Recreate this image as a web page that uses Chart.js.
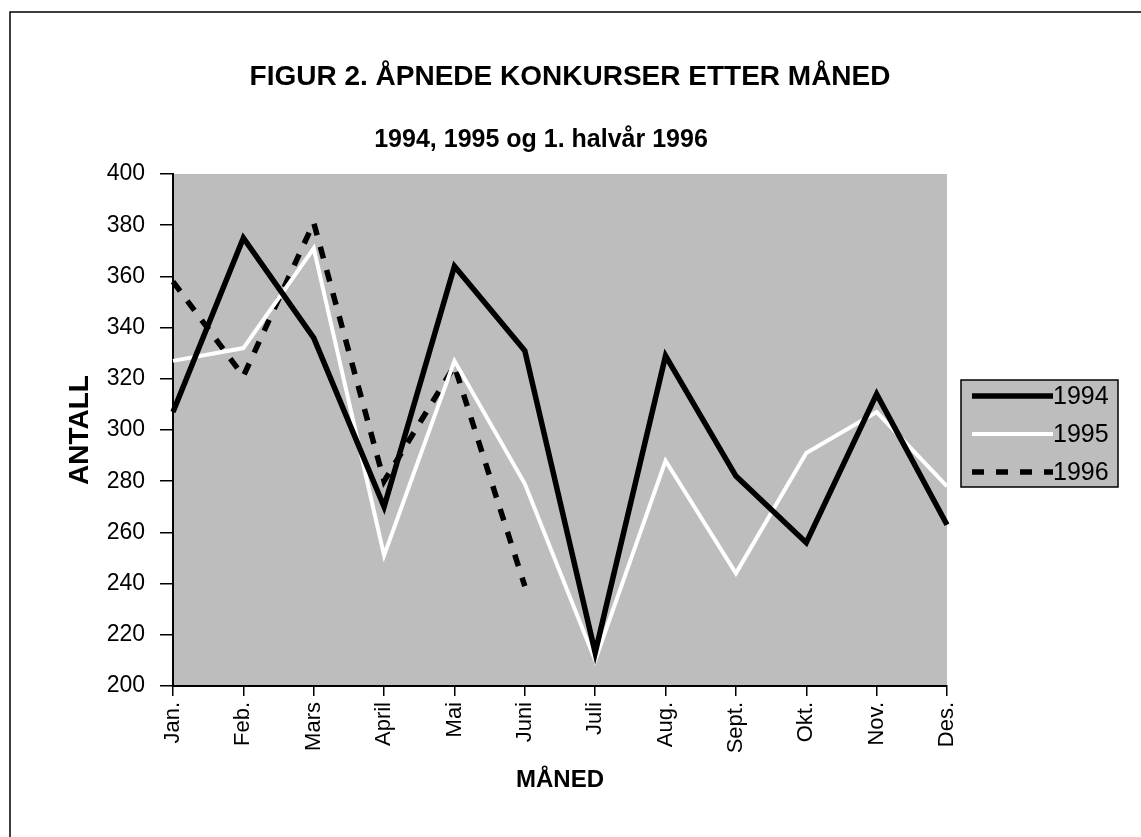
<!DOCTYPE html>
<html>
<head>
<meta charset="utf-8">
<title>Figur 2</title>
<script src="https://cdn.jsdelivr.net/npm/chart.js@4.4.1/dist/chart.umd.min.js"></script>
<style>
  html, body { margin: 0; padding: 0; background: #fff; }
  #wrap { width: 1141px; height: 837px; }
</style>
</head>
<body>
<div id="wrap"><canvas id="myChart" width="1141" height="837"></canvas></div>
<script>
// data
var months = ['Jan.', 'Feb.', 'Mars', 'April', 'Mai', 'Juni', 'Juli', 'Aug.', 'Sept.', 'Okt.', 'Nov.', 'Des.'];
var y1994 = [307, 375, 336, 270, 364, 331, 213, 329, 282, 256, 314, 263];
var y1995 = [327, 332, 371, 251, 327, 279, 210, 288, 244, 291, 307, 278];
var y1996 = [358, 321, 381, 280, 325, 239];
var seriesNames = ['1994', '1995', '1996'];
var yTicks = [200, 220, 240, 260, 280, 300, 320, 340, 360, 380, 400];

var plotGray = '#bdbdbd';
var tickFont = 'Liberation Sans';
var boldFont = 'Liberation Sans';

// grey plot area, frame, titles
var backdrop = {
  id: 'backdrop',
  beforeDraw: function (chart) {
    var c = chart.ctx, a = chart.chartArea;
    c.save();
    c.fillStyle = plotGray;
    c.fillRect(a.left, a.top, a.right - a.left, a.bottom - a.top);
    c.strokeStyle = '#000';
    c.lineWidth = 1.5;
    c.beginPath();
    c.moveTo(10, 837);
    c.lineTo(10, 12);
    c.lineTo(1141, 12);
    c.stroke();
    c.fillStyle = '#000';
    c.textAlign = 'center';
    c.textBaseline = 'middle';
    c.font = 'bold 28px "' + boldFont + '"';
    c.fillText('FIGUR 2. ÅPNEDE KONKURSER ETTER MÅNED', 570, 77);
    c.font = 'bold 25px "' + boldFont + '"';
    c.fillText('1994, 1995 og 1. halvår 1996', 541, 140);
    c.restore();
  }
};

// boxed legend on the right
var boxLegend = {
  id: 'boxLegend',
  afterDraw: function (chart) {
    var c = chart.ctx;
    var x0 = 961, y0 = 380, w = 157, h = 107;
    c.save();
    c.fillStyle = plotGray;
    c.fillRect(x0, y0, w, h);
    c.strokeStyle = '#000';
    c.lineWidth = 1.5;
    c.strokeRect(x0, y0, w, h);
    chart.data.datasets.forEach(function (ds, i) {
      var yy = 396 + i * 38;
      c.beginPath();
      c.strokeStyle = ds.borderColor;
      c.lineWidth = ds.borderWidth;
      c.setLineDash(ds.borderDash || []);
      c.moveTo(972, yy);
      c.lineTo(1053, yy);
      c.stroke();
      c.setLineDash([]);
      c.fillStyle = '#000';
      c.font = '25px "' + tickFont + '"';
      c.textAlign = 'left';
      c.textBaseline = 'middle';
      c.fillText(ds.label, 1053, yy + 1);
    });
    c.restore();
  }
};

var ctx = document.getElementById('myChart');
var myChart = new Chart(ctx, {
  type: 'line',
  data: {
    labels: months,
    datasets: [{
      label: seriesNames[0],
      data: y1994,
      borderColor: '#000',
      borderWidth: 5.5
    }, {
      label: seriesNames[1],
      data: y1995,
      borderColor: '#fff',
      borderWidth: 4
    }, {
      label: seriesNames[2],
      data: y1996,
      borderColor: '#000',
      borderWidth: 5.5,
      borderDash: [12, 12]
    }]
  },
  options: {
    responsive: false,
    animation: false,
    devicePixelRatio: 1,
    layout: { padding: { left: 10, top: 174, right: 194, bottom: 0 } },
    elements: {
      point: { radius: 0 },
      line: { tension: 0, borderJoinStyle: 'miter', borderCapStyle: 'butt' }
    },
    plugins: {
      legend: { display: false },
      tooltip: { enabled: false }
    },
    scales: {
      x: {
        offset: false,
        grid: { display: true, drawOnChartArea: false, tickLength: 10, color: '#000', lineWidth: 1.5 },
        border: { display: true, color: '#000', width: 2 },
        ticks: {
          color: '#000',
          font: { family: tickFont, size: 22 },
          minRotation: 90,
          maxRotation: 90,
          padding: 6,
          autoSkip: false
        },
        title: {
          display: true,
          text: 'MÅNED',
          color: '#000',
          font: { family: boldFont, size: 24, weight: 'bold' },
          padding: { top: 0, bottom: 42 }
        },
        afterFit: function (s) { s.height = 151; }
      },
      y: {
        min: 200,
        max: 400,
        afterBuildTicks: function (s) { s.ticks = yTicks.map(function (v) { return { value: v }; }); },
        grid: { display: true, drawOnChartArea: false, tickLength: 13, color: '#000', lineWidth: 1.5 },
        border: { display: true, color: '#000', width: 2 },
        ticks: {
          color: '#000',
          font: { family: tickFont, size: 23 },
          padding: 15
        },
        title: {
          display: true,
          text: 'ANTALL',
          color: '#000',
          font: { family: boldFont, size: 28, weight: 'bold' },
          padding: { top: 53, bottom: 0 }
        },
        afterFit: function (s) { s.width = 163; }
      }
    }
  },
  plugins: [backdrop, boxLegend]
});
</script>
</body>
</html>
